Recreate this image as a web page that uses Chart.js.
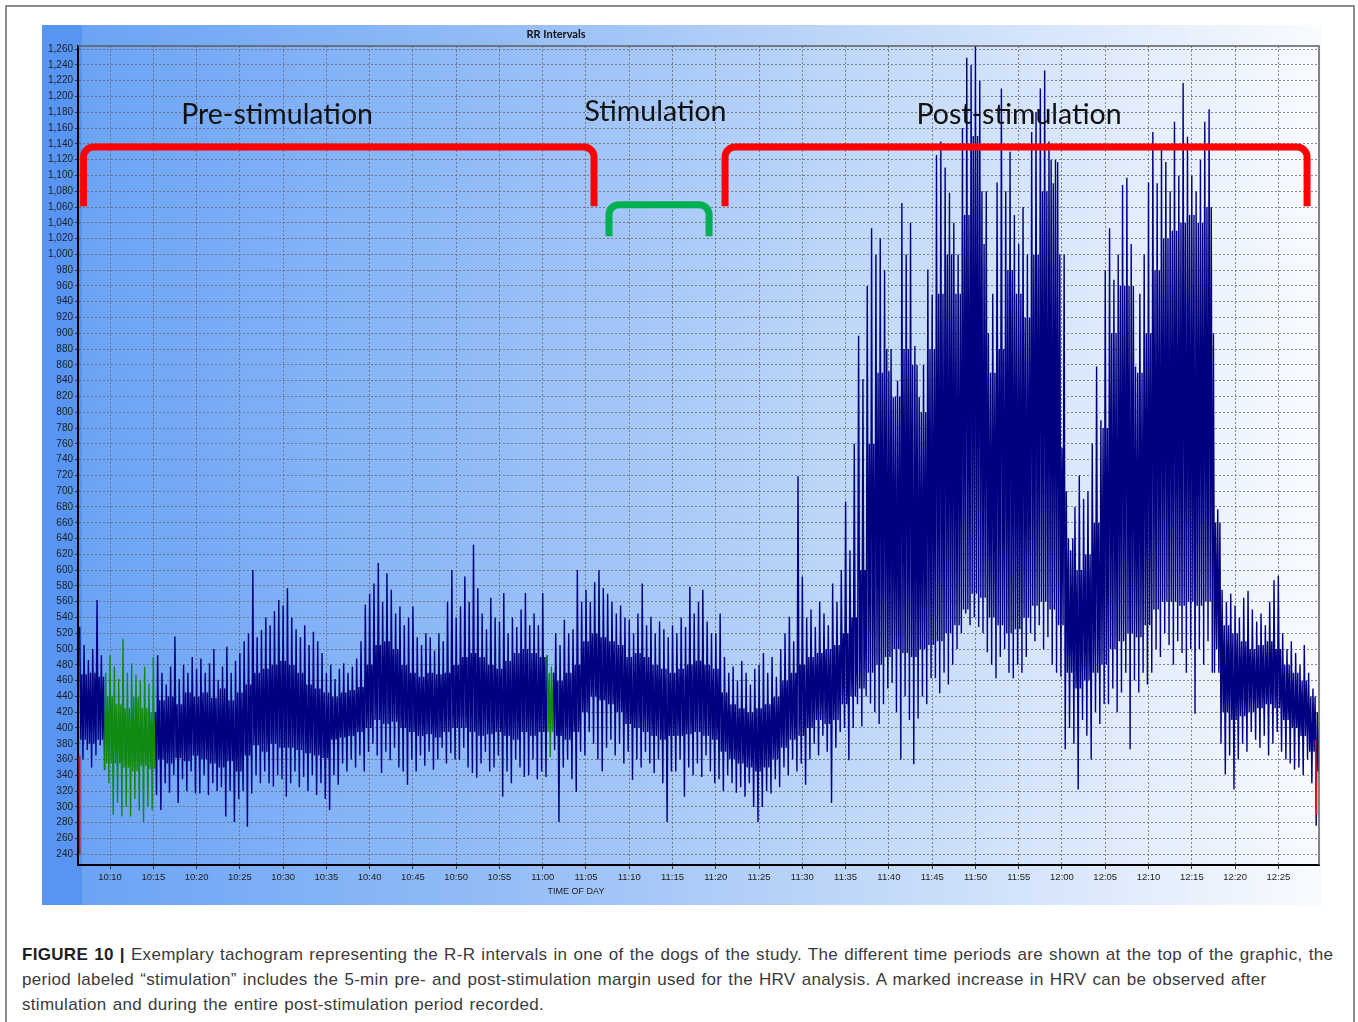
<!DOCTYPE html>
<html>
<head>
<meta charset="utf-8">
<title>RR Intervals</title>
<script src="https://cdn.jsdelivr.net/npm/chart.js@4.4.1/dist/chart.umd.min.js"></script>
<style>
  html, body { margin: 0; padding: 0; background: #ffffff; width: 1358px; height: 1022px; overflow: hidden; }
  #frame { position: absolute; left: 5px; top: 5px; width: 1346px; height: 1100px; border: 2px solid #8c8c8c; }
  #wrap { position: absolute; left: 42px; top: 25px; width: 1280px; height: 880px; }
  #caption { position: absolute; left: 22px; top: 942px; font-family: 'Liberation Sans', Arial, sans-serif;
             font-size: 17px; letter-spacing: 0.3px; word-spacing: 1.1px; line-height: 25px; color: #3a3a3a; white-space: nowrap; }
  #caption b { color: #1e1e1e; }
</style>
</head>
<body>
<div id="frame"></div>
<div id="wrap"><canvas id="rr" width="1280" height="880"></canvas></div>
<div id="caption"><b>FIGURE 10 |</b> Exemplary tachogram representing the R-R intervals in one of the dogs of the study. The different time periods are shown at the top of the graphic, the<br>period labeled “stimulation” includes the 5-min pre- and post-stimulation margin used for the HRV analysis. A marked increase in HRV can be observed after<br>stimulation and during the entire post-stimulation period recorded.</div>
<script>
// Time is counted in minutes after 10:00. Beats are summarised in 30-second bins:
// rrHigh / rrLow are the longest and shortest R-R interval (ms) inside each bin.
const firstBinMinute = 6.5;
const binMinutes = 0.5;

const rrHigh = [
  528, 505, 486, 500, 562, 492, 470,                      // 10:06:30 - 10:09:30
  492, 478, 462, 513, 470, 482, 467, 460, 478, 456,       // 10:10
  490, 492, 470, 455, 478, 516, 462, 480, 470, 490,       // 10:15
  475, 488, 470, 482, 500, 461, 478, 503, 470, 485,       // 10:20
  495, 510, 520, 600, 515, 524, 540, 530, 548, 562,       // 10:25
  555, 577, 540, 525, 515, 530, 505, 522, 510, 495,       // 10:30
  470, 480, 462, 475, 482, 470, 478, 488, 510, 556,       // 10:35
  570, 583, 609, 560, 596, 575, 545, 554, 530, 540,       // 10:40
  554, 515, 505, 520, 515, 498, 520, 510, 560, 600,       // 10:45
  540, 554, 592, 560, 632, 577, 545, 525, 565, 540,       // 10:50
  535, 571, 520, 540, 528, 550, 571, 530, 545, 530,       // 10:55
  571, 492, 478, 520, 505, 537, 520, 525, 600, 560,       // 11:00
  575, 560, 585, 600, 577, 570, 560, 545, 555, 540,       // 11:05
  537, 520, 545, 583, 530, 541, 520, 535, 525, 515,       // 11:10
  530, 520, 540, 528, 579, 545, 560, 575, 535, 520,       // 11:15
  520, 545, 490, 470, 478, 460, 485, 470, 455, 475,       // 11:20
  480, 495, 470, 490, 465, 500, 520, 541, 510, 719,       // 11:25
  592, 540, 550, 528, 560, 545, 530, 583, 560, 600,       // 11:30
  687, 625, 760, 897, 842, 960, 1033, 1000, 1020, 980,    // 11:35
  852, 819, 840, 1065, 1000, 1040, 884, 819, 860, 981,    // 11:40
  949, 1126, 1143, 1110, 1078, 1040, 1000, 1160, 1249, 1240, // 11:45
  1264, 1220, 1013, 900, 950, 1091, 1210, 1080, 1130, 1050,  // 11:50
  1013, 1060, 1000, 1155, 1180, 1210, 1233, 1143, 1090, 1117, // 11:55
  755, 700, 625, 680, 720, 690, 700, 760, 858, 790,       // 12:00
  980, 1033, 968, 1000, 1088, 1097, 1013, 858, 950, 1000, // 12:05
  1091, 1155, 1090, 1136, 1117, 1080, 1168, 1100, 1217, 1149, // 12:10
  1100, 1080, 1120, 1168, 1184, 900, 677, 575, 560, 570,  // 12:15
  555, 540, 565, 574, 550, 535, 545, 530, 560, 587,       // 12:20
  593, 520, 500, 510, 495, 480, 505, 470, 450, 420        // 12:25
];

const rrLow = [
  360, 372, 350, 365, 378, 347, 330,
  290, 305, 288, 300, 288, 310, 295, 281, 300, 296,
  315, 296, 330, 318, 340, 305, 335, 320, 345, 317,
  317, 340, 315, 330, 320, 325, 288, 320, 281, 310,
  320, 275, 317, 340, 330, 345, 330, 326, 340, 335,
  313, 330, 345, 325, 338, 320, 340, 315, 330, 310,
  296, 340, 328, 355, 345, 360, 350, 365, 345, 370,
  380, 365, 343, 370, 359, 375, 350, 345, 328, 360,
  345, 365, 352, 370, 347, 360, 375, 355, 368, 360,
  360, 375, 350, 343, 337, 355, 370, 345, 350, 365,
  313, 345, 330, 360, 350, 338, 340, 360, 335, 345,
  338, 363, 372, 281, 350, 360, 335, 319, 370, 365,
  395, 380, 360, 345, 375, 385, 365, 380, 355, 370,
  334, 360, 350, 370, 355, 343, 360, 330, 281, 345,
  345, 360, 313, 350, 340, 355, 338, 365, 345, 330,
  335, 320, 340, 330, 318, 325, 313, 330, 300, 281,
  300, 320, 317, 335, 325, 350, 340, 360, 345, 355,
  328, 360, 380, 365, 390, 370, 305, 375, 395, 400,
  359, 400, 430, 402, 440, 431, 420, 405, 430, 450,
  457, 420, 360, 440, 410, 354, 412, 440, 430, 463,
  463, 444, 470, 455, 480, 500, 520, 545, 530, 540,
  528, 520, 496, 480, 463, 490, 500, 470, 463, 480,
  470, 490, 520, 510, 530, 500, 515, 480, 470, 465,
  373, 400, 380, 322, 410, 390, 360, 420, 405, 430,
  430, 450, 420, 445, 470, 373, 460, 445, 470, 455,
  470, 500, 490, 520, 505, 480, 510, 495, 470, 500,
  418, 500, 480, 510, 470, 500, 380, 341, 365, 322,
  360, 380, 370, 395, 385, 375, 390, 365, 380, 395,
  370, 360, 355, 347, 350, 340, 360, 330, 276, 330
];

// Range holding most beats of each minute (one value per minute, from 10:06:30).
const coreStartMinute = 6.5;
const coreTop = [
  468, 470, 465, 440,
  430, 425, 440, 425, 420,
  435, 440, 430, 445, 440,
  445, 438, 450, 435, 445,
  455, 470, 475, 480, 485,
  480, 470, 455, 450, 445,
  440, 445, 448, 452, 480,
  505, 510, 500, 480, 470,
  465, 470, 468, 470, 480,
  490, 495, 490, 480, 475,
  485, 495, 500, 495, 490,
  470, 460, 470, 480, 510,
  520, 515, 510, 505, 490,
  495, 490, 480, 475, 470,
  475, 480, 485, 480, 475,
  445, 430, 425, 420, 425,
  430, 440, 460, 470, 480,
  490, 495, 500, 505, 520,
  540, 600, 760, 850, 880,
  820, 880, 860, 800, 880,
  950, 1000, 950, 1050, 1150,
  1080, 850, 880, 980, 950,
  920, 1000, 1080, 1120, 1000,
  640, 600, 620, 660, 780,
  900, 960, 960, 850, 900,
  980, 1020, 1030, 1040, 1050,
  1040, 1060, 660, 530, 520,
  510, 500, 505, 510, 500,
  480, 470, 460, 440, 400
];
const coreBottom = [
  385, 380, 385, 355,
  355, 350, 345, 352, 348,
  360, 355, 362, 358, 365,
  360, 355, 350, 358, 345,
  365, 378, 370, 380, 375,
  375, 372, 368, 365, 362,
  385, 388, 390, 395, 400,
  410, 405, 408, 400, 395,
  390, 392, 388, 395, 400,
  400, 395, 390, 392, 395,
  390, 385, 395, 390, 395,
  395, 390, 385, 395, 420,
  440, 435, 430, 420, 405,
  400, 395, 390, 385, 390,
  390, 392, 395, 390, 385,
  370, 360, 355, 350, 345,
  350, 360, 375, 385, 390,
  400, 410, 405, 410, 430,
  440, 450, 470, 480, 490,
  500, 495, 490, 500, 505,
  510, 520, 530, 550, 570,
  565, 540, 530, 520, 525,
  540, 555, 560, 550, 530,
  470, 450, 460, 470, 480,
  500, 510, 520, 515, 530,
  550, 560, 560, 555, 560,
  555, 560, 470, 420, 410,
  415, 420, 425, 430, 425,
  410, 400, 390, 370, 345
];

// Stretches the recorder marked in green, and beats it flagged in red.
const greenSpans = [[9.3, 15.3], [60.4, 61.3]];
const flaggedMinute = [6.45, 6.5, null, 149.3, 149.42];
const flaggedRR = [365, 240, null, 385, 290];

// Axis ticks.
const xTickLabels = ['10:10', '10:15', '10:20', '10:25', '10:30', '10:35', '10:40', '10:45', '10:50', '10:55',
  '11:00', '11:05', '11:10', '11:15', '11:20', '11:25', '11:30', '11:35', '11:40', '11:45', '11:50', '11:55',
  '12:00', '12:05', '12:10', '12:15', '12:20', '12:25'];
const yTickValues = [240, 260, 280, 300, 320, 340, 360, 380, 400, 420, 440, 460, 480, 500, 520, 540, 560, 580,
  600, 620, 640, 660, 680, 700, 720, 740, 760, 780, 800, 820, 840, 860, 880, 900, 920, 940, 960, 980, 1000,
  1020, 1040, 1060, 1080, 1100, 1120, 1140, 1160, 1180, 1200, 1220, 1240, 1260];

// Study periods shown above the trace (minutes after 10:00).
const periodNames = ['Pre-stimulation', 'Stimulation', 'Post-stimulation'];
const periodStart = [6.94, 67.66, 81.07];
const periodEnd = [65.93, 79.22, 148.32];

const minuteOf = label => { const [h, m] = label.split(':').map(Number); return (h - 10) * 60 + m; };

// ---- trace: each 30-s bin is drawn as max -> band bottom -> band top -> min ----
const NAVY = '#000080';
const GREEN = '#118a11';
const inGreen = t => greenSpans.some(([a, b]) => t >= a && t <= b);

const beatTrace = [];
rrHigh.forEach((v, i) => {
  const t = firstBinMinute + i * binMinutes;
  const j = Math.floor(t - coreStartMinute);
  const q = binMinutes / 4;
  beatTrace.push(
    { x: t, y: v },
    { x: t + q, y: coreBottom[j] },
    { x: t + 2 * q, y: coreTop[j] },
    { x: t + 3 * q, y: rrLow[i] }
  );
});
const flagged = flaggedMinute.map((t, k) => ({ x: t === null ? 100 : t, y: flaggedRR[k] }));

// Panel background: blue-to-white gradient with a darker strip on the left.
const panelBackground = {
  id: 'panelBackground',
  beforeDraw(chart) {
    const { ctx, width, height } = chart;
    ctx.save();
    const g = ctx.createLinearGradient(0, 0, width, 0);
    g.addColorStop(0.0, '#68a1f5');
    g.addColorStop(0.35, '#93bcf7');
    g.addColorStop(0.65, '#c2d9f9');
    g.addColorStop(0.85, '#e1ecfc');
    g.addColorStop(1.0, '#f9fbff');
    ctx.fillStyle = g;
    ctx.fillRect(0, 0, width, height);
    ctx.fillStyle = '#5894f1';
    ctx.fillRect(0, 0, 40, height);
    ctx.restore();
  }
};

// Brackets and names of the study periods, plus frame, title and axis caption.
const periodMarks = {
  id: 'periodMarks',
  afterDatasetsDraw(chart, args, opts) {
    const { ctx, scales: { x, y } } = chart;
    ctx.save();
    periodNames.forEach((name, k) => {
      const left = x.getPixelForValue(periodStart[k]);
      const right = x.getPixelForValue(periodEnd[k]);
      const top = y.getPixelForValue(opts.levels[k][0]);
      const foot = y.getPixelForValue(opts.levels[k][1]);
      const r = opts.radius;
      ctx.beginPath();
      ctx.moveTo(left, foot);
      ctx.lineTo(left, top + r);
      ctx.arcTo(left, top, left + r, top, r);
      ctx.lineTo(right - r, top);
      ctx.arcTo(right, top, right, top + r, r);
      ctx.lineTo(right, foot);
      ctx.strokeStyle = opts.colors[k];
      ctx.lineWidth = opts.width;
      ctx.lineJoin = 'round';
      ctx.stroke();
    });
    ctx.font = opts.font;
    ctx.fillStyle = '#111111';
    ctx.textAlign = 'center';
    ctx.textBaseline = 'alphabetic';
    periodNames.forEach((name, k) => {
      ctx.fillText(name, x.getPixelForValue(opts.labelAt[k][0]), y.getPixelForValue(opts.labelAt[k][1]));
    });
    ctx.restore();
  },
  afterDraw(chart) {
    const { ctx, chartArea: a } = chart;
    ctx.save();
    ctx.strokeStyle = '#5c5c5c';
    ctx.lineWidth = 1.5;
    ctx.beginPath();
    ctx.moveTo(a.left, a.top);
    ctx.lineTo(a.right, a.top);
    ctx.lineTo(a.right, a.bottom);
    ctx.stroke();
    ctx.fillStyle = '#111111';
    ctx.textAlign = 'center';
    ctx.textBaseline = 'middle';
    ctx.font = 'bold 11px Lato, "Liberation Sans", sans-serif';
    ctx.fillText('RR Intervals', 514, 9.5);
    ctx.font = '9px "Liberation Sans", Arial, sans-serif';
    ctx.fillStyle = '#1e1e1e';
    ctx.fillText('TIME OF DAY', 534, 867);
    ctx.restore();
  }
};

Chart.defaults.font.family = "'Liberation Sans', Arial, sans-serif";

new Chart(document.getElementById('rr'), {
  type: 'line',
  data: {
    datasets: [
      { data: beatTrace, order: 1, borderColor: NAVY, borderWidth: 1.4, pointRadius: 0, fill: false,
        segment: { borderColor: c => (inGreen(c.p0.parsed.x) && inGreen(c.p1.parsed.x)) ? GREEN : NAVY } },
      { data: flagged, order: 0, borderColor: '#e0161e', borderWidth: 1.6, pointRadius: 0, fill: false, spanGaps: false }
    ]
  },
  options: {
    responsive: false,
    animation: false,
    devicePixelRatio: 1,
    events: [],
    layout: { padding: { left: 0, right: 3, top: 21, bottom: 0 } },
    elements: { line: { tension: 0 }, point: { radius: 0 } },
    plugins: {
      legend: { display: false },
      tooltip: { enabled: false },
      periodMarks: {
        levels: [[1136, 1061], [1063, 1023], [1136, 1061]],
        colors: ['#ff0000', '#00b050', '#ff0000'],
        width: 7,
        radius: 10,
        font: '28.5px Lato, "Open Sans", sans-serif',
        labelAt: [[29.3, 1165], [73.03, 1169], [115.04, 1165]]
      }
    },
    scales: {
      x: {
        type: 'linear',
        min: 6.3,
        max: 149.7,
        afterBuildTicks: axis => { axis.ticks = xTickLabels.map(l => ({ value: minuteOf(l) })); },
        afterFit: s => { s.height = 40; },
        ticks: { autoSkip: false, maxRotation: 0, padding: 3, color: '#1e1e1e', font: { size: 9.5 },
                 callback: (v, i) => xTickLabels[i] },
        grid: { color: 'rgba(100,100,100,0.75)', lineWidth: 1, tickLength: 4, tickColor: '#333333' },
        border: { display: true, color: '#000000', width: 2, dash: [2, 2] }
      },
      y: {
        type: 'linear',
        min: 226.4,
        max: 1264,
        afterBuildTicks: axis => { axis.ticks = yTickValues.map(v => ({ value: v })); },
        afterFit: s => { s.width = 36; },
        ticks: { autoSkip: false, padding: 2, color: '#1e1e1e', font: { size: 10 },
                 callback: v => v.toLocaleString('en-US') },
        grid: { color: 'rgba(100,100,100,0.75)', lineWidth: 1, tickLength: 3, tickColor: '#333333' },
        border: { display: true, color: '#000000', width: 2, dash: [2, 2] }
      }
    }
  },
  plugins: [panelBackground, periodMarks]
});
</script>
</body>
</html>
